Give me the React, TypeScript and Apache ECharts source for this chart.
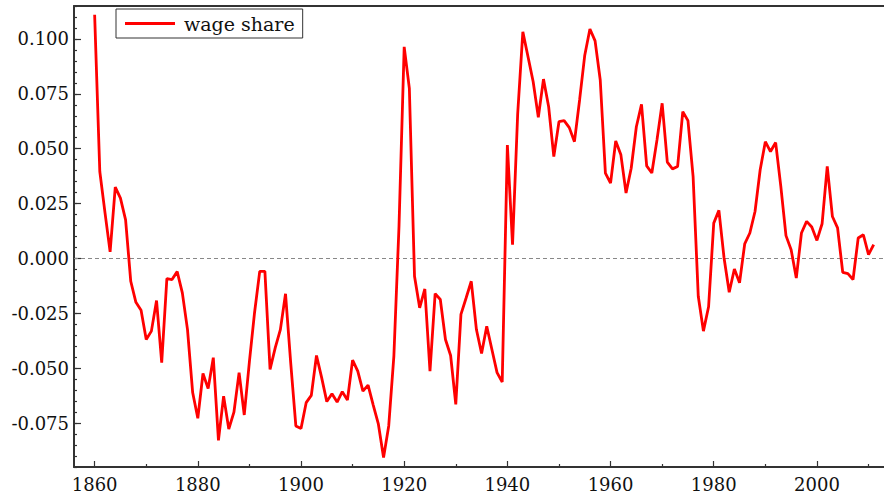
import React, { useEffect, useRef } from "react";
import * as echarts from "echarts";

const startYear = 1860;
const wageShare: number[] = [
  0.111, 0.0396, 0.021, 0.003, 0.0325, 0.0275, 0.0176, -0.0104, -0.02, -0.0236,
  -0.0369, -0.0331, -0.0192, -0.0475, -0.0092, -0.0096, -0.006, -0.0157, -0.0324, -0.0611,
  -0.0728, -0.0524, -0.0593, -0.0452, -0.0829, -0.0627, -0.0777, -0.07, -0.052, -0.0713,
  -0.047, -0.0246, -0.0059, -0.0059, -0.0505, -0.0407, -0.0324, -0.0161, -0.0475, -0.0763,
  -0.0775, -0.0657, -0.0624, -0.0442, -0.0543, -0.0652, -0.0616, -0.0654, -0.0607, -0.0645,
  -0.0463, -0.0513, -0.0604, -0.0577, -0.0668, -0.0755, -0.0907, -0.0763, -0.0445, 0.015,
  0.0964, 0.0775, -0.0081, -0.0225, -0.0139, -0.0513, -0.016, -0.0187, -0.0369, -0.0442,
  -0.0665, -0.0255, -0.018, -0.0104, -0.0324, -0.0433, -0.0309, -0.0415, -0.052, -0.0563,
  0.0517, 0.0063, 0.066, 0.1032, 0.0919, 0.0805, 0.0643, 0.0817, 0.0691, 0.0464,
  0.0623, 0.0628, 0.0596, 0.0532, 0.0722, 0.0926, 0.1045, 0.0991, 0.0813, 0.0389,
  0.0343, 0.0535, 0.0472, 0.0298, 0.0411, 0.06, 0.0702, 0.0422, 0.0389, 0.054,
  0.0707, 0.0439, 0.0408, 0.0419, 0.0669, 0.0628, 0.0373, -0.0172, -0.0331, -0.022,
  0.0161, 0.0219, 0.0002, -0.0154, -0.0048, -0.0111, 0.0066, 0.0116, 0.0214, 0.0404,
  0.0532, 0.0487, 0.0528, 0.0328, 0.0104, 0.004, -0.0089, 0.0116, 0.0169, 0.0143,
  0.0082, 0.0158, 0.0419, 0.0191, 0.0139, -0.0063, -0.0069, -0.0096, 0.0093, 0.0108,
  0.0017, 0.0063,
];
const years: number[] = wageShare.map((_, i) => startYear + i);

const xMajorTicks = [1860, 1880, 1900, 1920, 1940, 1960, 1980, 2000];
const xMinorTicks = [1870, 1890, 1910, 1930, 1950, 1970, 1990, 2010];
const yMajorTicks = [-0.075, -0.05, -0.025, 0, 0.025, 0.05, 0.075, 0.1];

const FONT = "'DejaVu Serif', 'Liberation Serif', serif";
const AXIS_COLOR = "#333333";

export default function App() {
  const ref = useRef<HTMLDivElement>(null);
  useEffect(() => {
    if (!ref.current) return;
    const chart = echarts.init(ref.current, undefined, { renderer: "svg" });
    const data = years.map((y, i) => [y, wageShare[i]]);
    chart.setOption({
      animation: false,
      backgroundColor: "#ffffff",
      grid: { left: 74, right: 0, top: 6, bottom: 28 },
      legend: {
        show: true,
        left: 116,
        top: 9,
        padding: [5, 8, 5, 9],
        borderColor: "#333333",
        borderWidth: 1,
        backgroundColor: "#ffffff",
        icon: "rect",
        itemWidth: 50,
        itemHeight: 3,
        textStyle: {
          fontFamily: FONT,
          fontSize: 19,
          color: "#111111",
          padding: [0, 0, 0, 4],
        },
        data: [{ name: "wage share", itemStyle: { color: "#ff0000" } }],
      },
      xAxis: [
        {
          type: "value",
          min: 1856,
          max: 2013,
          position: "bottom",
          splitLine: { show: false },
          axisLine: { show: true, onZero: false, lineStyle: { color: AXIS_COLOR, width: 2 } },
          axisTick: {
            show: true,
            inside: true,
            length: 6,
            customValues: xMajorTicks,
            lineStyle: { color: AXIS_COLOR, width: 1.2 },
          },
          axisLabel: {
            show: true,
            customValues: xMajorTicks,
            margin: 8,
            fontFamily: FONT,
            fontSize: 18,
            color: "#111111",
            formatter: (v: number) => String(v),
          },
        },
        {
          type: "value",
          min: 1856,
          max: 2013,
          position: "bottom",
          splitLine: { show: false },
          axisLine: { show: false, onZero: false },
          axisTick: {
            show: true,
            inside: true,
            length: 3,
            customValues: xMinorTicks,
            lineStyle: { color: AXIS_COLOR, width: 1.2 },
          },
          axisLabel: { show: false },
        },
        {
          type: "value",
          min: 1856,
          max: 2013,
          position: "top",
          splitLine: { show: false },
          axisLine: { show: true, onZero: false, lineStyle: { color: AXIS_COLOR, width: 2 } },
          axisTick: { show: false },
          axisLabel: { show: false },
        },
      ],
      yAxis: [
        {
          type: "value",
          min: -0.095,
          max: 0.115,
          position: "left",
          splitLine: { show: false },
          axisLine: { show: true, onZero: false, lineStyle: { color: AXIS_COLOR, width: 2 } },
          axisTick: {
            show: true,
            inside: true,
            length: 7,
            customValues: yMajorTicks,
            lineStyle: { color: AXIS_COLOR, width: 1.2 },
          },
          axisLabel: {
            show: true,
            customValues: yMajorTicks,
            margin: 5,
            fontFamily: FONT,
            fontSize: 18,
            color: "#111111",
            formatter: (v: number) => v.toFixed(3),
          },
        },
        {
          type: "value",
          min: -0.095,
          max: 0.115,
          interval: 0.005,
          position: "left",
          splitLine: { show: false },
          axisLine: { show: false, onZero: false },
          axisTick: {
            show: true,
            inside: true,
            length: 3,
            lineStyle: { color: AXIS_COLOR, width: 1.2 },
          },
          axisLabel: { show: false },
        },
      ],
      series: [
        {
          name: "wage share",
          type: "line",
          xAxisIndex: 0,
          yAxisIndex: 0,
          data,
          symbol: "none",
          showSymbol: false,
          lineStyle: { color: "#ff0000", width: 2.8 },
          itemStyle: { color: "#ff0000" },
          z: 3,
          markLine: {
            silent: true,
            symbol: ["none", "none"],
            label: { show: false },
            lineStyle: { color: "#888888", type: [4, 3], width: 1.2 },
            data: [{ yAxis: 0 }],
            z: 1,
          },
        },
      ],
    });
    return () => chart.dispose();
  }, []);
  return (
    <div
      ref={ref}
      style={{ position: "fixed", left: 0, top: 0, width: 884, height: 495 }}
    />
  );
}
